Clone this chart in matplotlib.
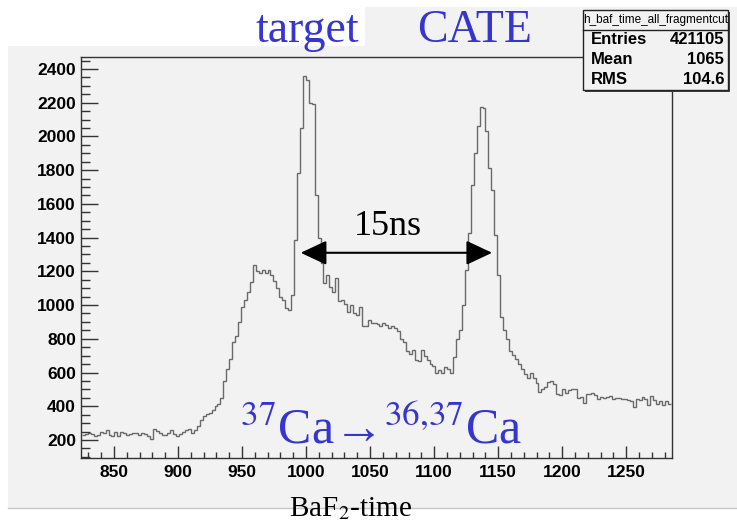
import numpy as np
import matplotlib.pyplot as plt
from matplotlib.patches import Rectangle
from matplotlib.lines import Line2D

plt.rcParams['mathtext.fontset'] = 'stix'

# histogram h_baf_time_all_fragmentcut, 200 bins from 825 to 1285
x_lo, x_hi = 825, 1285
counts = [
    230, 236, 240, 238, 222, 232, 246, 244, 260, 232,
    221, 245, 225, 248, 240, 230, 238, 242, 240, 230,
    243, 238, 224, 208, 266, 256, 242, 228, 230, 240,
    258, 236, 226, 236, 250, 262, 266, 240, 260, 280,
    319, 340, 355, 358, 378, 400, 414, 450, 550, 620,
    680, 780, 817, 900, 990, 1030, 1075, 1135, 1235, 1200,
    1190, 1205, 1190, 1205, 1180, 1145, 1100, 1050, 1028, 980,
    968, 1060, 1387, 1783, 2050, 2357, 2337, 2198, 2195, 1654,
    1397, 1249, 1130, 1180, 1110, 1080, 1160, 1025, 1030, 1005,
    956, 1000, 950, 940, 990, 873, 873, 914, 896, 893,
    886, 877, 892, 880, 865, 877, 863, 845, 798, 780,
    730, 712, 734, 673, 671, 734, 700, 675, 650, 639,
    600, 612, 596, 635, 620, 595, 690, 800, 850, 1000,
    1209, 1427, 1713, 1900, 2060, 2174, 2170, 2030, 1812, 1684,
    1417, 1179, 930, 850, 800, 730, 705, 680, 652, 618,
    590, 570, 600, 570, 535, 487, 500, 512, 546, 550,
    530, 475, 467, 500, 478, 495, 501, 501, 450, 457,
    418, 475, 470, 480, 465, 444, 457, 447, 453, 461,
    445, 447, 447, 445, 443, 437, 430, 395, 440, 437,
    457, 440, 410, 460, 437, 414, 433, 408, 430, 414,
]
xticks = [850, 900, 950, 1000, 1050, 1100, 1150, 1200, 1250]
yticks = [200, 400, 600, 800, 1000, 1200, 1400, 1600, 1800, 2000, 2200, 2400]

stats_title = 'h_baf_time_all_fragmentcut'
stats_names = ['Entries', 'Mean', 'RMS']
stats_vals = ['421105', '1065', '104.6']

W, H = 737, 525
gray = '#f2f2f2'
blue = '#3535d0'


def fx(px):
    return px / W


def fy(py):
    return 1 - py / H


fig = plt.figure(figsize=(W / 100, H / 100), dpi=100)

# canvas background and the white box behind "target"
fig.add_artist(Rectangle((fx(8), fy(508)), fx(737) - fx(8), fy(7) - fy(508),
                         transform=fig.transFigure, facecolor=gray,
                         edgecolor='none', zorder=-3))
fig.add_artist(Line2D([fx(8), fx(737)], [fy(508), fy(508)],
                      transform=fig.transFigure, color='#c8c8c8', lw=1, zorder=-2))
fig.add_artist(Rectangle((0, fy(46)), fx(365), 1 - fy(46),
                         transform=fig.transFigure, facecolor='white',
                         edgecolor='none', zorder=-2))

ax = fig.add_axes([fx(81), fy(458), fx(672) - fx(81), fy(57) - fy(458)])
ax.set_facecolor(gray)

edges = np.linspace(x_lo, x_hi, len(counts) + 1)
ax.stairs(counts, edges, baseline=None, color='#6a6a6a', lw=1.0)

ax.set_xlim(824.2, 1285.8)
ax.set_ylim(93, 2471)
ax.set_xticks(xticks)
ax.set_yticks(yticks)
ax.set_xticks(np.arange(830, 1286, 10), minor=True)
ax.set_yticks(np.arange(100, 2471, 50), minor=True)

for s in ax.spines.values():
    s.set_color('#333333')
    s.set_linewidth(1.0)

ax.tick_params(axis='y', which='major', direction='in', length=12.2, width=1,
               color='#333333', pad=3.6, labelsize=12.5, right=False)
ax.tick_params(axis='y', which='minor', direction='in', length=6.3, width=1,
               color='#333333', right=False)
ax.tick_params(axis='x', which='major', direction='in', length=8.6, width=1,
               color='#333333', pad=5, labelsize=12.5, top=False)
ax.tick_params(axis='x', which='minor', direction='in', length=4.3, width=1,
               color='#333333', top=False)
for lab in ax.get_xticklabels() + ax.get_yticklabels():
    lab.set_fontfamily('Liberation Sans')
    lab.set_fontweight('bold')

# 15 ns arrow between the two peaks
ax.annotate('', xy=(995.8, 1310), xytext=(1145.3, 1310),
            arrowprops=dict(arrowstyle='<|-|>,head_length=1.6,head_width=0.75',
                            color='black', lw=1.5, shrinkA=0, shrinkB=0))
fig.text(fx(388), fy(235), '15ns', ha='center', va='baseline',
         fontsize=26, family='Liberation Serif', color='black')

fig.text(fx(256), fy(42), 'target', ha='left', va='baseline',
         fontsize=33, family='Liberation Serif', color=blue)
fig.text(fx(417), fy(42), 'CATE', ha='left', va='baseline',
         fontsize=33, family='Liberation Serif', color=blue)
fig.text(fx(240), fy(443), '$^{37}$Ca\u2192$^{36{,}37}$Ca', ha='left',
         va='baseline', fontsize=36, family='Liberation Serif', color=blue,
         zorder=5)
fig.text(fx(350), fy(516), r'BaF$_2$-time', ha='center', va='baseline',
         fontsize=21, family='Liberation Serif', color='black')

# stats box
bx0, bx1, by0, by1 = 583, 728, 10, 90
fig.add_artist(Rectangle((fx(bx0 + 2), fy(by1 + 2)), fx(bx1) - fx(bx0), fy(by0) - fy(by1),
                         transform=fig.transFigure, facecolor='#444444',
                         edgecolor='none', zorder=4))
fig.add_artist(Rectangle((fx(bx0), fy(by1)), fx(bx1) - fx(bx0), fy(by0) - fy(by1),
                         transform=fig.transFigure, facecolor=gray,
                         edgecolor='#222222', lw=1, zorder=4.1))
fig.add_artist(Line2D([fx(bx0), fx(bx1)], [fy(30), fy(30)],
                      transform=fig.transFigure, color='#222222', lw=1, zorder=4.2))
fig.text(fx((bx0 + bx1) / 2), fy(20), stats_title, ha='center', va='center',
         fontsize=8.5, family='Liberation Sans', zorder=5)
for i, (n, v) in enumerate(zip(stats_names, stats_vals)):
    yy = fy(39 + 20.5 * i)
    fig.text(fx(591), yy, n, ha='left', va='center', fontsize=12,
             fontweight='bold', family='Liberation Sans', zorder=5)
    fig.text(fx(724), yy, v, ha='right', va='center', fontsize=12,
             fontweight='bold', family='Liberation Sans', zorder=5)

fig.savefig('out.png', dpi=100, facecolor='white')
